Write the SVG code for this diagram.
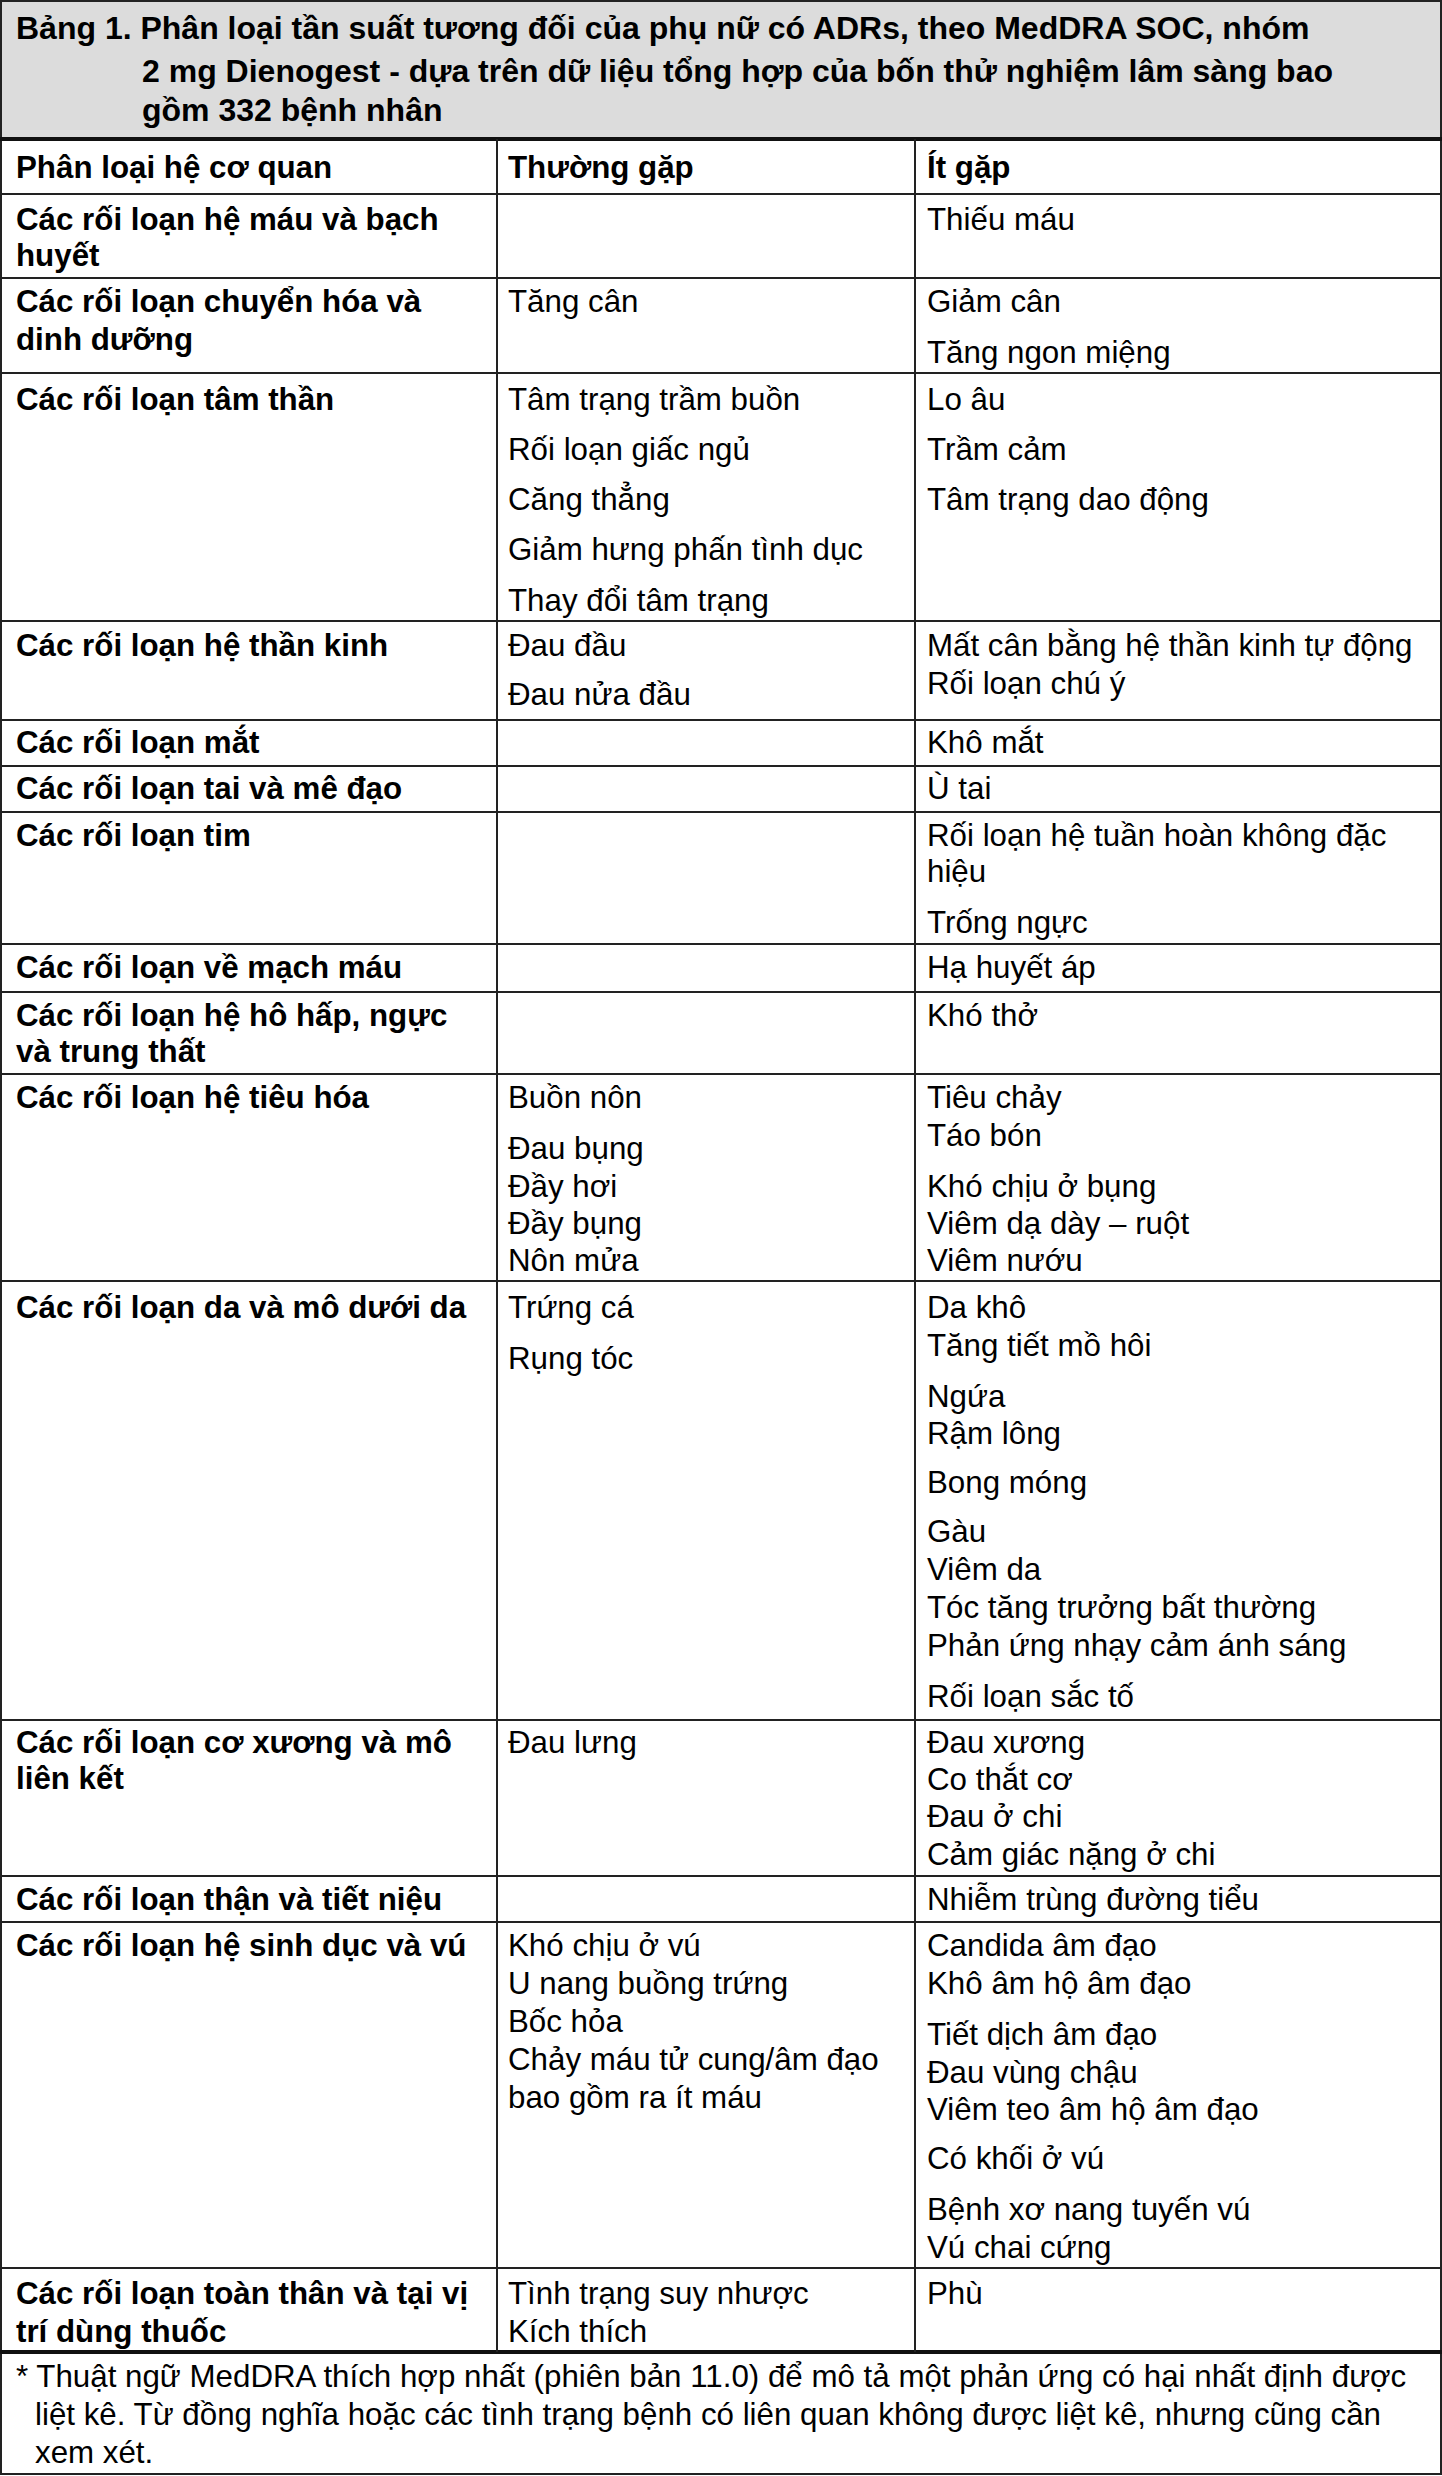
<svg xmlns="http://www.w3.org/2000/svg" width="1442" height="2476" viewBox="0 0 1442 2476">
<style>
text{font-family:"Liberation Sans",Arial,sans-serif;font-size:31.3px;fill:#000}
.b{font-weight:bold}
.t{font-size:32px}
.ln{stroke:#222;stroke-width:2;fill:none}
.thick{stroke:#111;stroke-width:4}
</style>
<rect x="0" y="0" width="1442" height="2476" fill="#fff"/>
<g id="title">
<rect x="1" y="1" width="1440" height="138" fill="#dcdcdc"/>
<text class="b t" x="16" y="39">Bảng 1. Phân loại tần suất tương đối của phụ nữ có ADRs, theo MedDRA SOC, nhóm</text>
<text class="b t" x="142" y="82">2 mg Dienogest - dựa trên dữ liệu tổng hợp của bốn thử nghiệm lâm sàng bao</text>
<text class="b t" x="142" y="121">gồm 332 bệnh nhân</text>
</g>
<g id="connectors">
<rect class="ln" x="1" y="1" width="1440" height="2473"/>
<line class="ln thick" x1="0" y1="139" x2="1442" y2="139"/>
<line class="ln" x1="0" y1="194" x2="1442" y2="194"/>
<line class="ln" x1="0" y1="278" x2="1442" y2="278"/>
<line class="ln" x1="0" y1="373" x2="1442" y2="373"/>
<line class="ln" x1="0" y1="621" x2="1442" y2="621"/>
<line class="ln" x1="0" y1="720" x2="1442" y2="720"/>
<line class="ln" x1="0" y1="766" x2="1442" y2="766"/>
<line class="ln" x1="0" y1="812" x2="1442" y2="812"/>
<line class="ln" x1="0" y1="944" x2="1442" y2="944"/>
<line class="ln" x1="0" y1="992" x2="1442" y2="992"/>
<line class="ln" x1="0" y1="1074" x2="1442" y2="1074"/>
<line class="ln" x1="0" y1="1281" x2="1442" y2="1281"/>
<line class="ln" x1="0" y1="1720" x2="1442" y2="1720"/>
<line class="ln" x1="0" y1="1876" x2="1442" y2="1876"/>
<line class="ln" x1="0" y1="1922" x2="1442" y2="1922"/>
<line class="ln" x1="0" y1="2268" x2="1442" y2="2268"/>
<line class="ln thick" x1="0" y1="2352" x2="1442" y2="2352"/>
<line class="ln" x1="497" y1="139" x2="497" y2="2352"/>
<line class="ln" x1="915" y1="139" x2="915" y2="2352"/>
</g>
<g id="header-row">
<text class="b" x="16" y="178">Phân loại hệ cơ quan</text>
<text class="b" x="508" y="178">Thường gặp</text>
<text class="b" x="927" y="178">Ít gặp</text>
</g>
<g id="row-mau">
<text class="b" x="16" y="230">Các rối loạn hệ máu và bạch</text>
<text class="b" x="16" y="266">huyết</text>
<text x="927" y="230">Thiếu máu</text>
</g>
<g id="row-chuyenhoa">
<text class="b" x="16" y="312">Các rối loạn chuyển hóa và</text>
<text class="b" x="16" y="350">dinh dưỡng</text>
<text x="508" y="312">Tăng cân</text>
<text x="927" y="312">Giảm cân</text>
<text x="927" y="363">Tăng ngon miệng</text>
</g>
<g id="row-tamthan">
<text class="b" x="16" y="410">Các rối loạn tâm thần</text>
<text x="508" y="410">Tâm trạng trầm buồn</text>
<text x="508" y="460">Rối loạn giấc ngủ</text>
<text x="508" y="510">Căng thẳng</text>
<text x="508" y="560">Giảm hưng phấn tình dục</text>
<text x="508" y="611">Thay đổi tâm trạng</text>
<text x="927" y="410">Lo âu</text>
<text x="927" y="460">Trầm cảm</text>
<text x="927" y="510">Tâm trạng dao động</text>
</g>
<g id="row-thankinh">
<text class="b" x="16" y="656">Các rối loạn hệ thần kinh</text>
<text x="508" y="656">Đau đầu</text>
<text x="508" y="705">Đau nửa đầu</text>
<text x="927" y="656">Mất cân bằng hệ thần kinh tự động</text>
<text x="927" y="694">Rối loạn chú ý</text>
</g>
<g id="row-mat">
<text class="b" x="16" y="753">Các rối loạn mắt</text>
<text x="927" y="753">Khô mắt</text>
</g>
<g id="row-tai">
<text class="b" x="16" y="799">Các rối loạn tai và mê đạo</text>
<text x="927" y="799">Ù tai</text>
</g>
<g id="row-tim">
<text class="b" x="16" y="846">Các rối loạn tim</text>
<text x="927" y="846">Rối loạn hệ tuần hoàn không đặc</text>
<text x="927" y="882">hiệu</text>
<text x="927" y="933">Trống ngực</text>
</g>
<g id="row-machmau">
<text class="b" x="16" y="978">Các rối loạn về mạch máu</text>
<text x="927" y="978">Hạ huyết áp</text>
</g>
<g id="row-hohap">
<text class="b" x="16" y="1026">Các rối loạn hệ hô hấp, ngực</text>
<text class="b" x="16" y="1062">và trung thất</text>
<text x="927" y="1026">Khó thở</text>
</g>
<g id="row-tieuhoa">
<text class="b" x="16" y="1108">Các rối loạn hệ tiêu hóa</text>
<text x="508" y="1108">Buồn nôn</text>
<text x="508" y="1159">Đau bụng</text>
<text x="508" y="1197">Đầy hơi</text>
<text x="508" y="1234">Đầy bụng</text>
<text x="508" y="1271">Nôn mửa</text>
<text x="927" y="1108">Tiêu chảy</text>
<text x="927" y="1146">Táo bón</text>
<text x="927" y="1197">Khó chịu ở bụng</text>
<text x="927" y="1234">Viêm dạ dày – ruột</text>
<text x="927" y="1271">Viêm nướu</text>
</g>
<g id="row-da">
<text class="b" x="16" y="1318">Các rối loạn da và mô dưới da</text>
<text x="508" y="1318">Trứng cá</text>
<text x="508" y="1369">Rụng tóc</text>
<text x="927" y="1318">Da khô</text>
<text x="927" y="1356">Tăng tiết mồ hôi</text>
<text x="927" y="1407">Ngứa</text>
<text x="927" y="1444">Rậm lông</text>
<text x="927" y="1493">Bong móng</text>
<text x="927" y="1542">Gàu</text>
<text x="927" y="1580">Viêm da</text>
<text x="927" y="1618">Tóc tăng trưởng bất thường</text>
<text x="927" y="1656">Phản ứng nhạy cảm ánh sáng</text>
<text x="927" y="1707">Rối loạn sắc tố</text>
</g>
<g id="row-coxuong">
<text class="b" x="16" y="1753">Các rối loạn cơ xương và mô</text>
<text class="b" x="16" y="1789">liên kết</text>
<text x="508" y="1753">Đau lưng</text>
<text x="927" y="1753">Đau xương</text>
<text x="927" y="1790">Co thắt cơ</text>
<text x="927" y="1827">Đau ở chi</text>
<text x="927" y="1865">Cảm giác nặng ở chi</text>
</g>
<g id="row-than">
<text class="b" x="16" y="1910">Các rối loạn thận và tiết niệu</text>
<text x="927" y="1910">Nhiễm trùng đường tiểu</text>
</g>
<g id="row-sinhduc">
<text class="b" x="16" y="1956">Các rối loạn hệ sinh dục và vú</text>
<text x="508" y="1956">Khó chịu ở vú</text>
<text x="508" y="1994">U nang buồng trứng</text>
<text x="508" y="2032">Bốc hỏa</text>
<text x="508" y="2070">Chảy máu tử cung/âm đạo</text>
<text x="508" y="2108">bao gồm ra ít máu</text>
<text x="927" y="1956">Candida âm đạo</text>
<text x="927" y="1994">Khô âm hộ âm đạo</text>
<text x="927" y="2045">Tiết dịch âm đạo</text>
<text x="927" y="2083">Đau vùng chậu</text>
<text x="927" y="2120">Viêm teo âm hộ âm đạo</text>
<text x="927" y="2169">Có khối ở vú</text>
<text x="927" y="2220">Bệnh xơ nang tuyến vú</text>
<text x="927" y="2258">Vú chai cứng</text>
</g>
<g id="row-toanthan">
<text class="b" x="16" y="2304">Các rối loạn toàn thân và tại vị</text>
<text class="b" x="16" y="2342">trí dùng thuốc</text>
<text x="508" y="2304">Tình trạng suy nhược</text>
<text x="508" y="2342">Kích thích</text>
<text x="927" y="2304">Phù</text>
</g>
<g id="footnote">
<text x="16" y="2387">* Thuật ngữ MedDRA thích hợp nhất (phiên bản 11.0) để mô tả một phản ứng có hại nhất định được</text>
<text x="35" y="2425">liệt kê. Từ đồng nghĩa hoặc các tình trạng bệnh có liên quan không được liệt kê, nhưng cũng cần</text>
<text x="35" y="2463">xem xét.</text>
</g>
</svg>
